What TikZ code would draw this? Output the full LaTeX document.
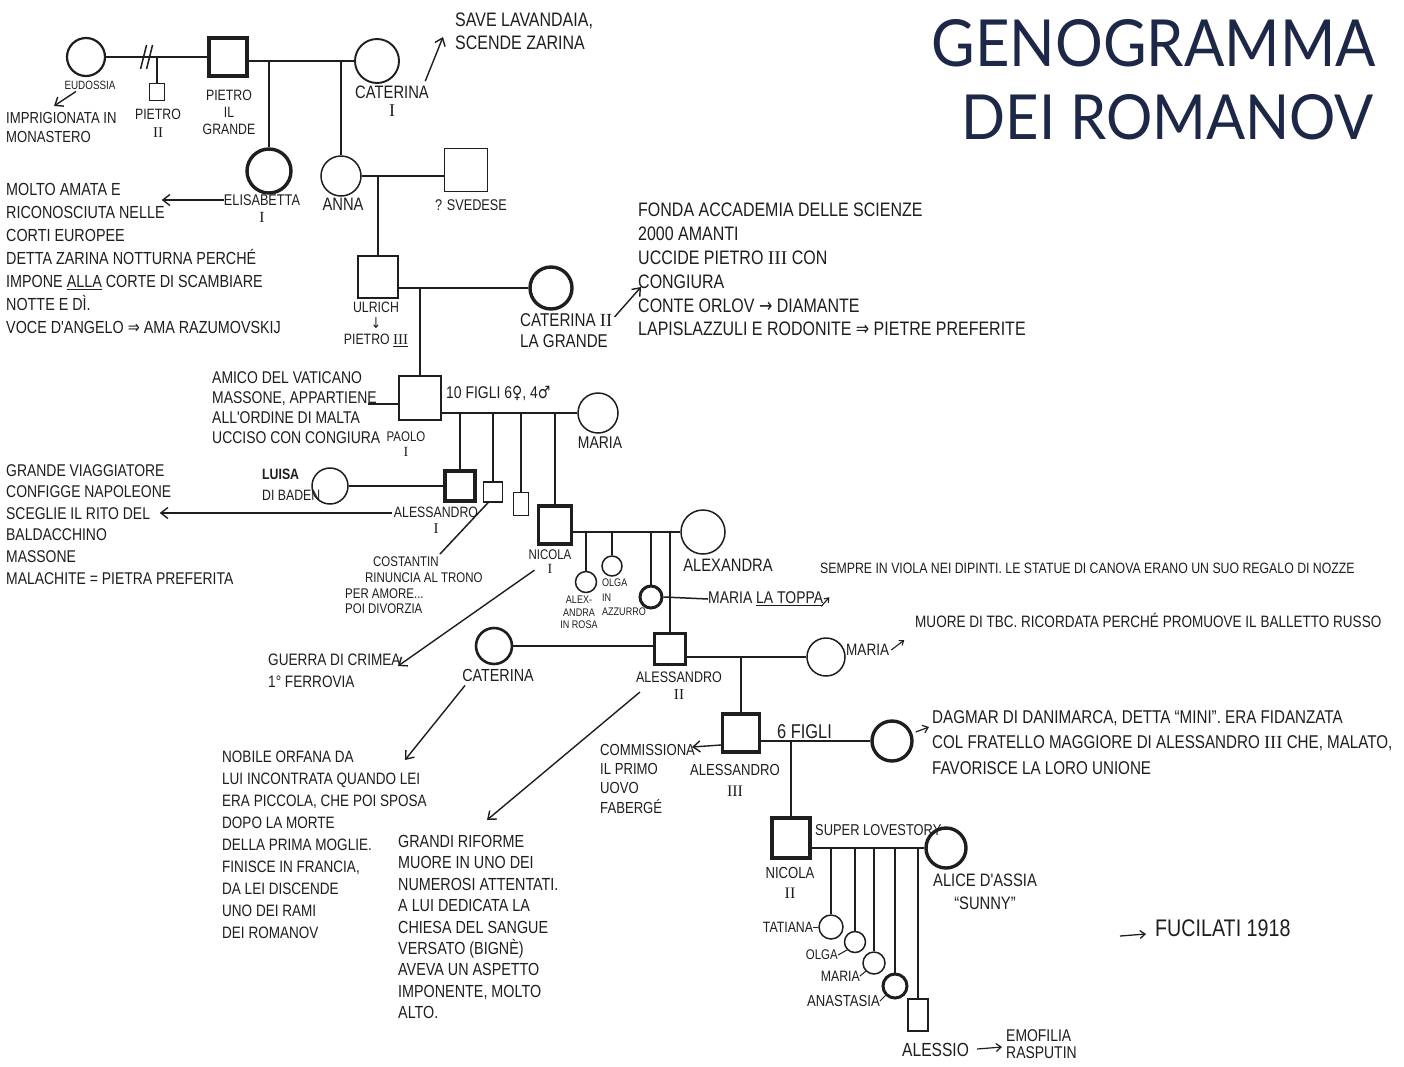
\documentclass[tikz,border=0pt]{standalone}
\usepackage{fontspec}
\usepackage{graphicx}
\usetikzlibrary{arrows.meta,calc}
\newfontfamily\handfont[FakeStretch=0.82]{Liberation Sans}
\newfontfamily\symf[FakeStretch=0.82]{DejaVu Sans}
\newfontfamily\romf{Liberation Serif}
\newfontfamily\titlef{Lato}
\definecolor{inkc}{HTML}{1E1E1E}
\definecolor{navy}{HTML}{1D2747}
\newcommand{\rn}[1]{{\romf #1}}
\begin{document}
\begin{tikzpicture}[x=1pt,y=-1pt,
  male/.style={draw=inkc, rectangle, line width=1.5pt, inner sep=0pt, minimum size=#1pt},
  female/.style={draw=inkc, circle, line width=1.5pt, inner sep=0pt, minimum size=#1pt},
  heavy/.style={line width=3.4pt},
  rel/.style={draw=inkc, line width=1.5pt},
  arr/.style={draw=inkc, line width=1.4pt, -{Straight Barb[length=7pt,width=11pt]}},
  smallarr/.style={draw=inkc, line width=1.2pt, -{Straight Barb[length=5pt,width=8pt]}},
  hand/.style={text=inkc, inner sep=0pt},
  fs/.style 2 args={font={\handfont\fontsize{#1}{#2}\selectfont}},
]
\fill[white] (0,0) rectangle (1404,1066);
\useasboundingbox (0,0) rectangle (1404,1066);

% ---------- title ----------
\node[anchor=south east, inner sep=0pt, text=navy, font=\titlef] (t1) at (1376,67) {\resizebox{444pt}{47pt}{GENOGRAMMA}};
\node[anchor=south east, inner sep=0pt, text=navy, font=\titlef] (t2) at (1374,140) {\resizebox{412pt}{45pt}{DEI ROMANOV}};

% ---------- persons ----------
\node[female=38, line width=2.2pt] (eud) at (86,57) {};
\node[male=38, heavy] (pgr) at (228,57) {};
\node[female=44, line width=1.9pt] (cat1) at (377,61) {};
\node[male=15, minimum height=17pt] (p2) at (157,92) {};
\node[female=44, heavy] (eli) at (269,171) {};
\node[female=40] (anna) at (341,176) {};
\node[male=43] (sved) at (466,170) {};
\node[male=40, minimum height=42pt] (ulr) at (378,277) {};
\node[female=42, heavy] (cat2) at (551,288) {};
\node[male=42, minimum height=44pt, line width=2.6pt] (paolo) at (420,398) {};
\node[female=40] (maria1) at (598,413) {};
\node[female=36] (luisa) at (330,486) {};
\node[male=30, heavy] (ales1) at (460,486) {};
\node[male=19, minimum height=20pt] (cost) at (493,492) {};
\node[male=15, minimum height=23pt] (mic) at (521,504) {};
\node[male=33, minimum height=38pt, heavy] (nic1) at (555,525) {};
\node[female=44] (alexa) at (703,532) {};
\node[female=21] (alx) at (586,582) {};
\node[female=20] (olga1) at (612,566) {};
\node[female=22, line width=3pt] (mar2) at (651,597) {};
\node[female=36, line width=2.6pt] (cat3) at (494,646) {};
\node[male=31, heavy] (ales2) at (670,649) {};
\node[female=38] (mar3) at (826,657) {};
\node[male=37, minimum height=38pt, heavy] (ales3) at (741,733) {};
\node[female=40, heavy] (dag) at (892,741) {};
\node[male=38, minimum height=40pt, heavy] (nic2) at (791,838) {};
\node[female=40, heavy] (alice) at (946,848) {};
\node[female=24] (tat) at (831,927) {};
\node[female=21] (olga2) at (855,942) {};
\node[female=22] (mar4) at (874,963) {};
\node[female=24, line width=3pt] (anast) at (895,986) {};
\node[male=20, minimum height=32pt] (alessio) at (918,1015) {};

% ---------- relations ----------
\draw[rel] (eud.east) -- (pgr.west);
\coordinate (div) at ($(eud.east)!0.40!(pgr.west)$);
\draw[rel] ($(div)+(-6,12)$) -- ($(div)+(0,-12)$);
\draw[rel] ($(div)+(0,12)$) -- ($(div)+(6,-12)$);
\draw[rel] (p2.north |- eud.east) -- (p2.north);
\draw[rel] (pgr.east |- cat1.west) -- (cat1.west);
\draw[rel] (eli.north |- cat1.west) -- (eli.north);
\draw[rel] (anna.north |- cat1.west) -- (anna.north);
\draw[rel] (anna.east) -- (anna.east -| sved.west);
\draw[rel] (ulr.north |- anna.east) -- (ulr.north);
\draw[rel] (ulr.east |- cat2.west) -- (cat2.west);
\draw[rel] (paolo.north |- cat2.west) -- (paolo.north);
\draw[rel] (paolo.east |- maria1.west) -- (maria1.west);
\foreach \cn in {ales1,cost,mic,nic1} \draw[rel] (\cn.north |- maria1.west) -- (\cn.north);
\draw[rel] (luisa.east) -- (luisa.east -| ales1.west);
\draw[rel] (nic1.east |- alexa.west) -- (alexa.west);
\foreach \cn in {alx,olga1,mar2,ales2} \draw[rel] (\cn.north |- alexa.west) -- (\cn.north);
\draw[rel] (cat3.east) -- (cat3.east -| ales2.west);
\draw[rel] (ales2.east |- mar3.west) -- (mar3.west);
\draw[rel] (ales3.north |- mar3.west) -- (ales3.north);
\draw[rel] (ales3.east |- dag.west) -- (dag.west);
\draw[rel] (nic2.north |- dag.west) -- (nic2.north);
\draw[rel] (nic2.east |- alice.west) -- (alice.west);
\foreach \cn in {tat,olga2,mar4,anast,alessio} \draw[rel] (\cn.north |- alice.west) -- (\cn.north);

% ---------- generation 1 texts ----------
\node[hand, fs={12}{14}] (leud) at (90,85) {EUDOSSIA};
\node[hand, fs={16}{19}, align=left, anchor=north west] (teud) at (6,112) {IMPRIGIONATA IN\\MONASTERO};
\draw[arr] ($(leud.south)+(-14,2)$) -- ($(teud.north west)+(48,-6)$);
\node[hand, fs={15}{18}, align=center, anchor=north] (lp2) at (158,109) {PIETRO\\\rn{II}};
\node[hand, fs={15}{17}, align=center, anchor=north] (lpgr) at (229,90) {PIETRO\\IL\\GRANDE};
\node[hand, fs={18}{18}, align=center, anchor=north] (lcat1) at (392,86) {CATERINA\\\rn{I}};
\node[hand, fs={19.5}{23}, align=left, anchor=north west] (tsave) at (455,13) {SAVE LAVANDAIA,\\SCENDE ZARINA};
\draw[arr] ($(cat1.south east)+(32,4)$) -- ($(tsave.north west)+(-12,24)$);

% ---------- generation 2 texts ----------
\node[hand, fs={15.5}{17}, align=center, anchor=north] (leli) at (262,194) {ELISABETTA\\\rn{I}};
\draw[arr] ($(leli.north west)+(0,6)$) -- ++(-62,0);
\node[hand, fs={17.5}{23}, align=left, anchor=north west] (teli) at (6,183) {MOLTO AMATA E\\RICONOSCIUTA NELLE\\CORTI EUROPEE\\DETTA ZARINA NOTTURNA PERCHÉ\\IMPONE \underline{ALLA} CORTE DI SCAMBIARE\\NOTTE E DÌ.\\VOCE D'ANGELO {\symf ⇒} AMA RAZUMOVSKIJ};
\node[hand, fs={18}{18}] (lanna) at (343,204) {ANNA};
\node[hand, fs={15.5}{18}] (lsved) at (471,205) {? SVEDESE};

% ---------- generation 3 texts ----------
\node[hand, fs={15}{16}, align=center, anchor=north] (lulr) at (376,302) {ULRICH\\{\symf ↓}\\PIETRO \underline{\rn{III}}};
\node[hand, fs={18.5}{21}, align=left, anchor=north west] (lcat2) at (520,313) {CATERINA \rn{II}\\LA GRANDE};
\node[hand, fs={19.5}{23.8}, align=left, anchor=north west] (tcat2) at (638,203) {FONDA ACCADEMIA DELLE SCIENZE\\2000 AMANTI\\UCCIDE PIETRO \rn{III} CON\\CONGIURA\\CONTE ORLOV {\symf →} DIAMANTE\\LAPISLAZZULI E RODONITE {\symf ⇒} PIETRE PREFERITE};
\draw[arr] ($(lcat2.north east)+(2,4)$) -- ($(tcat2.north west)+(3,84)$);

% ---------- generation 4 texts ----------
\node[hand, fs={17}{20}, align=left, anchor=north west] (tpaolo) at (212,371) {AMICO DEL VATICANO\\MASSONE, APPARTIENE\\ALL'ORDINE DI MALTA\\UCCISO CON CONGIURA};
\draw[rel] ($(paolo.west)+(-30,6)$) -- ($(paolo.west)+(0,6)$);
\node[hand, fs={17}{20}, anchor=west] (lfigli) at (446,393) {10 FIGLI 6{\symf ♀}, 4{\symf ♂}};
\node[hand, fs={14}{15}, align=center, anchor=north] (lpaolo) at (406,432) {PAOLO\\\rn{I}};
\node[hand, fs={17}{18}] (lmar1) at (600,443) {MARIA};

% ---------- generation 5 texts ----------
\node[hand, fs={15}{21}, align=left, anchor=north west] (lluisa) at (262,469) {{\bfseries LUISA}\\DI BADEN};
\node[hand, fs={15}{16}, align=center, anchor=north] (lales1) at (436,507) {ALESSANDRO\\\rn{I}};
\draw[arr] ($(lales1.north west)+(-2,6)$) -- ++(-232,0);
\node[hand, fs={17}{21.6}, align=left, anchor=north west] (tales1) at (6,464) {GRANDE VIAGGIATORE\\CONFIGGE NAPOLEONE\\SCEGLIE IL RITO DEL\\BALDACCHINO\\MASSONE\\MALACHITE = PIETRA PREFERITA};
\node[hand, fs={14}{15.6}, align=left, anchor=north west] (tcost) at (345,557) {\hspace*{28pt}COSTANTIN\\\hspace*{20pt}RINUNCIA AL TRONO\\PER AMORE...\\POI DIVORZIA};
\draw[rel] ($(cost.south)+(-5,0)$) -- ($(tcost.north west)+(95,-3)$);
\node[hand, fs={14}{14}, align=center, anchor=north] (lnic1) at (550,550) {NICOLA\\\rn{I}};
\node[hand, fs={16.6}{22}, align=left, anchor=north west] (tcrim) at (268,654) {GUERRA DI CRIMEA\\1° FERROVIA};
\draw[arr] ($(lnic1.south west)+(6,-4)$) -- ($(tcrim.north west)+(130,12)$);
\node[hand, fs={18}{18}] (lalexa) at (728,565) {ALEXANDRA};
\node[hand, fs={11}{12.5}, align=center, anchor=north] (lalx) at (579,596) {ALEX-\\ANDRA\\IN ROSA};
\node[hand, fs={11}{14.5}, align=left, anchor=north west] (lolga1) at (602,579) {OLGA\\IN\\AZZURRO};
\node[hand, fs={17}{18}, anchor=west] (lmar2) at (708,599) {MARIA \underline{LA TOPPA}};
\draw[rel] (mar2.east) -- (lmar2.west);
\draw[draw=inkc, line width=1.1pt, -{Straight Barb[length=4pt,width=6pt]}] ($(lmar2.south east)+(-2,0)$) -- ++(8,-9);
\node[hand, fs={15}{18}, anchor=west] (tsempre) at (820,568) {SEMPRE IN VIOLA NEI DIPINTI. LE STATUE DI CANOVA ERANO UN SUO REGALO DI NOZZE};

% ---------- generation 6 texts ----------
\node[hand, fs={17.5}{18}] (lcat3) at (498,675) {CATERINA};
\node[hand, fs={15.3}{17}, align=center, anchor=north] (lales2) at (679,672) {ALESSANDRO\\\rn{II}};
\node[hand, fs={16.5}{18}, anchor=west] (lmar3) at (846,650) {MARIA};
\draw[draw=inkc, line width=1.1pt, -{Straight Barb[length=4pt,width=6pt]}] ($(lmar3.east)+(2,0)$) -- ++(13,-10);
\node[hand, fs={16.5}{18}, anchor=west] (tmuore) at (915,620) {MUORE DI TBC. RICORDATA PERCHÉ PROMUOVE IL BALLETTO RUSSO};
\node[hand, fs={16.5}{22}, align=left, anchor=north west] (tnob) at (222,751) {NOBILE ORFANA DA\\LUI INCONTRATA QUANDO LEI\\ERA PICCOLA, CHE POI SPOSA\\DOPO LA MORTE\\DELLA PRIMA MOGLIE.\\FINISCE IN FRANCIA,\\DA LEI DISCENDE\\UNO DEI RAMI\\DEI ROMANOV};
\draw[arr] ($(lcat3.south west)+(3,4)$) -- ($(tnob.north west)+(183,9)$);
\node[hand, fs={17.5}{21.4}, align=left, anchor=north west] (tales2) at (398,835) {GRANDI RIFORME\\MUORE IN UNO DEI\\NUMEROSI ATTENTATI.\\A LUI DEDICATA LA\\CHIESA DEL SANGUE\\VERSATO (BIGNÈ)\\AVEVA UN ASPETTO\\IMPONENTE, MOLTO\\ALTO.};
\draw[arr] ($(lales2.west)+(4,6)$) -- ($(tales2.north west)+(89,-15)$);

% ---------- generation 7 texts ----------
\node[hand, fs={16}{19.3}, align=left, anchor=north west] (tcomm) at (600,744) {COMMISSIONA\\IL PRIMO\\UOVO\\FABERGÉ};
\draw[arr] ($(ales3.west)+(0,12)$) -- ($(tcomm.north west)+(92,3)$);
\node[hand, fs={16}{21}, align=center, anchor=north] (lales3) at (735,764) {ALESSANDRO\\\rn{III}};
\node[hand, fs={20}{20}, anchor=west] (lfigli6) at (777,732) {6 FIGLI};
\node[hand, fs={18.5}{25.5}, align=left, anchor=north west] (tdag) at (932,710) {DAGMAR DI DANIMARCA, DETTA “MINI”. ERA FIDANZATA\\COL FRATELLO MAGGIORE DI ALESSANDRO \rn{III} CHE, MALATO,\\FAVORISCE LA LORO UNIONE};
\draw[smallarr] ($(dag.east)+(2,-9)$) -- ($(tdag.north west)+(-3,17)$);

% ---------- generation 8 texts ----------
\node[hand, fs={16}{20}, align=center, anchor=north] (lnic2) at (790,867) {NICOLA\\\rn{II}};
\node[hand, fs={15.7}{18}, anchor=west] (llove) at (815,830) {SUPER LOVESTORY};
\node[hand, fs={18}{23}, align=center, anchor=north] (lalice) at (985,874) {ALICE D'ASSIA\\“SUNNY”};
\node[hand, fs={15}{16}, anchor=east] (ltat) at ($(tat.west)+(-5,0)$) {TATIANA};
\draw[rel, line width=1pt] (ltat.east) -- (tat.west);
\node[hand, fs={14}{16}, anchor=east] (lolga2) at (838,955) {OLGA};
\draw[rel, line width=1pt] (lolga2.east) -- (olga2.south west);
\node[hand, fs={15}{16}, anchor=east] (lmar4) at (860,976) {MARIA};
\draw[rel, line width=1pt] (lmar4.east) -- (mar4.south west);
\node[hand, fs={16}{16}, anchor=east] (lanast) at (880,1001) {ANASTASIA};
\draw[rel, line width=1pt] (lanast.east) -- (anast.south west);
\node[hand, fs={19}{20}, anchor=west] (lalessio) at (902,1050) {ALESSIO};
\node[hand, fs={17}{17}, align=left, anchor=west] (temo) at (1006,1044) {EMOFILIA\\RASPUTIN};
\draw[smallarr] ($(lalessio.east)+(8,-1)$) -- ($(temo.west)+(-4,3)$);
\node[hand, fs={24}{24}, anchor=west] (tfuc) at (1155,928) {FUCILATI 1918};
\draw[smallarr, line width=1.3pt] ($(tfuc.west)+(-35,8)$) -- ($(tfuc.west)+(-9,6)$);
\end{tikzpicture}
\end{document}
